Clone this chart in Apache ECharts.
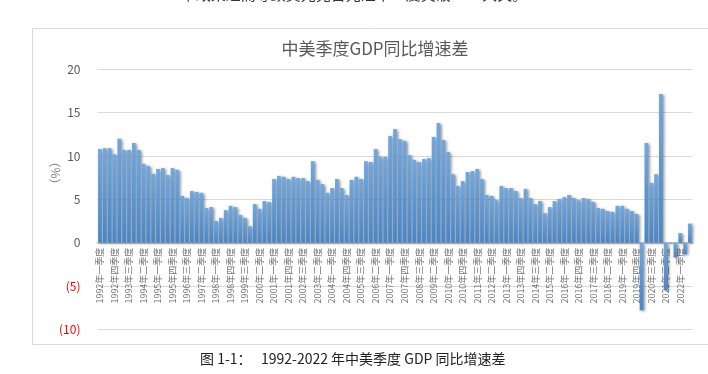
<!DOCTYPE html>
<html><head><meta charset="utf-8">
<script src="https://cdn.jsdelivr.net/npm/echarts@6/dist/echarts.min.js"></script>
<style>html,body{margin:0;padding:0;background:#fff}#c{width:708px;height:374px}</style>
</head><body><div id="c"></div>
<script>
const years = [];
for (let y = 1992; y <= 2022; y++) years.push(y);
const quarterNames = ['一季度', '二季度', '三季度', '四季度'];
const categories = [];
years.forEach(y => quarterNames.forEach((q, i) => { if (!(y === 2022 && i > 2)) categories.push(y + '年' + q); }));

const gdpGap = [
  10.8, 10.9, 10.9, 10.2, 12.0, 10.7, 10.7, 11.5, 10.7, 9.1,
  8.85, 7.95, 8.5, 8.6, 7.8, 8.6, 8.4, 5.4, 5.15, 5.95,
  5.85, 5.75, 4.0, 4.1, 2.5, 2.85, 3.75, 4.25, 4.1, 3.2,
  2.85, 1.9, 4.45, 3.9, 4.8, 4.7, 7.35, 7.7, 7.6, 7.35,
  7.6, 7.45, 7.45, 7.1, 9.4, 7.25, 6.75, 5.75, 6.3, 7.35,
  6.3, 5.5, 7.25, 7.6, 7.35, 9.4, 9.3, 10.8, 9.9, 9.9,
  12.3, 13.1, 11.95, 11.75, 10.1, 9.55, 9.3, 9.65, 9.75, 12.2,
  13.8, 11.85, 10.45, 7.9, 6.55, 7.1, 8.15, 8.25, 8.5, 7.35,
  5.5, 5.4, 4.9, 6.55, 6.3, 6.3, 5.95, 5.15, 6.2, 5.15,
  4.45, 4.8, 3.4, 4.1, 4.8, 5.05, 5.25, 5.5, 5.15, 4.9,
  5.15, 5.05, 4.7, 4.0, 3.9, 3.65, 3.55, 4.25, 4.25, 3.9,
  3.65, 3.3, -7.8, 11.5, 6.9, 7.9, 17.15, -5.45, -0.1, -1.7,
  1.1, -1.35, 2.2
];

const titleText = '中美季度GDP同比增速差';
const captionText = '图 1-1：   1992-2022 年中美季度 GDP 同比增速差';
const topText = '市政策进而导致美元兑日元汇率一度突破 150 大关。';
const yName = '（%）';
const yMin = -10, yMax = 20;

const FONT = '"Noto Sans CJK SC", "Noto Sans", sans-serif';
const gridTop = 69.3, gridBottom = 44.7;
const plotH = 374 - gridTop - gridBottom;
const zeroOffset = -plotH * (0 - yMin) / (yMax - yMin);

const chart = echarts.init(document.getElementById('c'), null, {renderer: 'canvas'});
chart.setOption({
  animation: false,
  backgroundColor: '#fff',
  textStyle: {fontFamily: FONT},
  title: {
    text: titleText, left: 370, top: 35, textAlign: 'center',
    textStyle: {fontSize: 17, fontWeight: 'normal', color: '#595959', fontFamily: FONT}
  },
  graphic: [
    {type: 'rect', shape: {x: 32.5, y: 28.5, width: 690, height: 316}, style: {fill: 'none', stroke: '#d9d9d9', lineWidth: 1}, silent: true, z: -1},
    {type: 'text', left: 'center', top: -13, style: {text: topText, font: '15px ' + FONT, fill: '#333'}},
    {type: 'text', left: 200, top: 352, style: {text: captionText, font: '14px ' + FONT, fill: '#222'}},
    {type: 'text', x: 55, y: 173, rotation: Math.PI / 2,
     style: {text: yName, font: '12px ' + FONT, fill: '#7f7f7f', align: 'center', verticalAlign: 'middle'}}
  ],
  grid: {left: 97.5, right: 15.7, top: gridTop, bottom: gridBottom, containLabel: false, outerBoundsMode: 'none'},
  xAxis: {
    type: 'category', data: categories, position: 'bottom', offset: zeroOffset,
    axisLine: {onZero: false, lineStyle: {color: '#d0d0d0', width: 2}},
    axisTick: {show: false},
    axisLabel: {interval: 2, rotate: 90, fontSize: 9, color: '#737373', margin: 5, fontFamily: FONT}
  },
  yAxis: {
    type: 'value', min: yMin, max: yMax, interval: 5,
    axisLine: {show: false}, axisTick: {show: false},
    splitLine: {lineStyle: {color: '#d9d9d9', width: 1}},
    axisLabel: {
      fontSize: 12, color: '#595959', margin: 17, fontFamily: FONT,
      formatter: v => v < 0 ? '{neg|(' + (-v) + ')}' : String(v),
      rich: {neg: {color: '#ff0000', fontSize: 12, fontFamily: FONT}}
    }
  },
  series: [{
    type: 'bar', data: gdpGap, barWidth: '76%', z: 3,
    itemStyle: {
      color: new echarts.graphic.LinearGradient(0, 0, 0, 1, [
        {offset: 0, color: '#70a8e0'}, {offset: 1, color: '#4686cb'}
      ]),
      shadowColor: 'rgba(0,0,0,0.45)', shadowBlur: 3, shadowOffsetX: 1.5, shadowOffsetY: 1
    }
  }]
});
</script></body></html>
